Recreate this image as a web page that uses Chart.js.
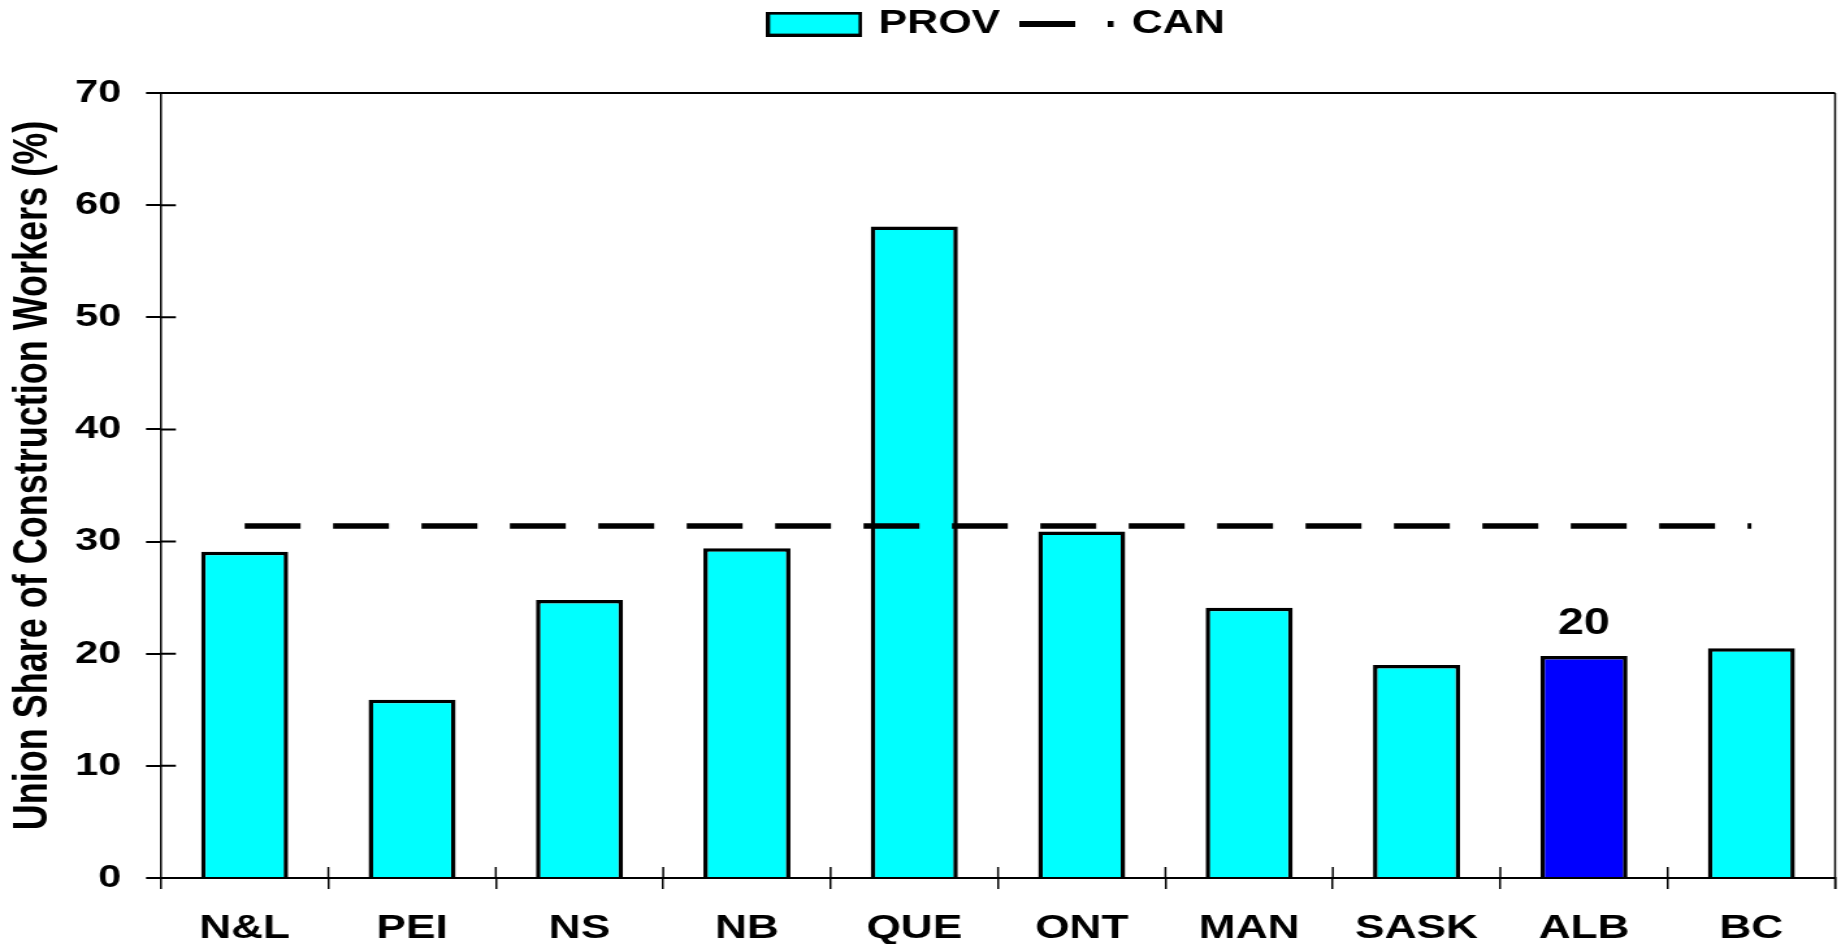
<!DOCTYPE html>
<html lang="en">
<head>
  <meta charset="UTF-8">
  <title>Union Share of Construction Workers</title>
  <script src="https://cdn.jsdelivr.net/npm/chart.js"></script>
  <style>
    html, body {
      margin: 0;
      padding: 0;
      background: #fff;
      overflow: hidden;
    }
    /* the original figure is stretched sideways, so draw narrow and widen */
    #wrap {
      width: 1416px;
      height: 944px;
      transform: scaleX(1.3001);
      transform-origin: 0 0;
    }
  </style>
</head>
<body>
  <div id="wrap"><canvas id="unionChart"></canvas></div>

  <script>
    const provinces = ['N&L', 'PEI', 'NS', 'NB', 'QUE', 'ONT', 'MAN', 'SASK', 'ALB', 'BC'];
    const provShare = [29.1, 15.9, 24.8, 29.4, 58.1, 30.9, 24.1, 19.0, 19.8, 20.5];
    const canShare = [31.4, 31.4, 31.4, 31.4, 31.4, 31.4, 31.4, 31.4, 31.4, 31.4];
    const highlight = 'ALB';

    const FONT = '"Liberation Sans", Arial, sans-serif';
    Chart.defaults.font.family = FONT;
    Chart.defaults.font.weight = 'bold';
    Chart.defaults.color = '#000';

    function swatch(w, h, draw) {
      const c = document.createElement('canvas');
      c.width = w;
      c.height = h;
      draw(c.getContext('2d'));
      return c;
    }
    const provSwatch = swatch(74, 25, g => {
      g.fillStyle = '#00ffff';
      g.fillRect(0, 0, 74, 25);
      g.strokeStyle = '#000';
      g.lineWidth = 3;
      g.strokeRect(1.5, 1.5, 71, 22);
    });
    const canSwatch = swatch(74, 6, g => {
      g.fillStyle = '#000';
      g.fillRect(0, 0, 43, 6);
      g.fillRect(68, 0, 4.5, 6);
    });

    // top/right frame plus the inner halves of the tick marks
    const frame = {
      id: 'frame',
      afterDraw(chart) {
        const {ctx, chartArea: a} = chart;
        const x = chart.scales.x, y = chart.scales.y;
        ctx.save();
        ctx.strokeStyle = '#000';
        ctx.lineWidth = 2;
        ctx.beginPath();
        ctx.moveTo(a.left, a.top);
        ctx.lineTo(a.right, a.top);
        y.ticks.forEach(t => {
          const py = y.getPixelForValue(t.value);
          ctx.moveTo(a.left, py);
          ctx.lineTo(a.left + 11.5, py);
        });
        ctx.stroke();
        ctx.lineWidth = 1.5;
        ctx.beginPath();
        ctx.moveTo(a.right, a.top);
        ctx.lineTo(a.right, a.bottom + 11);
        for (let i = 1; i < provinces.length; i++) {
          const px = x.getPixelForValue(i - 0.5);
          ctx.moveTo(px, a.bottom - 11);
          ctx.lineTo(px, a.bottom);
        }
        ctx.stroke();
        ctx.restore();
      }
    };

    const valueLabel = {
      id: 'valueLabel',
      afterDatasetsDraw(chart) {
        const i = provinces.indexOf(highlight);
        const bar = chart.getDatasetMeta(0).data[i];
        const ctx = chart.ctx;
        ctx.save();
        ctx.font = 'bold 36px ' + FONT;
        ctx.fillStyle = '#000';
        ctx.textAlign = 'center';
        ctx.textBaseline = 'middle';
        ctx.fillText(String(Math.round(provShare[i])), bar.x, bar.y - 32);
        ctx.restore();
      }
    };

    new Chart(document.getElementById('unionChart'), {
      type: 'bar',
      data: {
        labels: provinces,
        datasets: [{
          label: 'PROV',
          data: provShare,
          backgroundColor: provinces.map(p => p === highlight ? '#0000ff' : '#00ffff'),
          borderColor: '#000',
          borderWidth: 3.5,
          barPercentage: 0.52,
          categoryPercentage: 1,
          order: 1
        }, {
          type: 'line',
          label: 'CAN',
          data: canShare,
          borderColor: '#000',
          borderWidth: 5.5,
          borderDash: [43, 25],
          pointRadius: 0,
          fill: false,
          order: 0
        }]
      },
      options: {
        responsive: true,
        maintainAspectRatio: false,
        animation: false,
        devicePixelRatio: 1,
        layout: { padding: { top: -11, right: 4.5, bottom: 0, left: 0 } },
        plugins: {
          tooltip: { enabled: false },
          legend: {
            position: 'top',
            fullSize: false,
            labels: {
              usePointStyle: true,
              pointStyleWidth: 66,
              padding: 18.6,
              font: { size: 33, weight: 'bold' },
              generateLabels: () => [
                { text: 'PROV', pointStyle: provSwatch, datasetIndex: 0, fontColor: '#000', lineWidth: 0 },
                { text: 'CAN', pointStyle: canSwatch, datasetIndex: 1, fontColor: '#000', lineWidth: 0 }
              ]
            }
          },
          subtitle: {
            display: true,
            text: '',
            weight: 500,
            font: { size: 10 },
            padding: { top: 30.5, bottom: 0 }
          }
        },
        scales: {
          x: {
            afterFit: s => { s.height = 66; },
            grid: { offset: true, drawOnChartArea: false, tickLength: 11, color: '#000', lineWidth: 1.5 },
            border: { color: '#000', width: 2 },
            ticks: { font: { size: 34, weight: 'bold' }, padding: 19.5, maxRotation: 0 }
          },
          y: {
            min: 0,
            max: 70,
            afterFit: s => { s.width = 123.8; },
            grid: { drawOnChartArea: false, tickLength: 11.5, color: '#000', lineWidth: 2 },
            border: { color: '#000', width: 1.5 },
            ticks: { stepSize: 10, font: { size: 32, weight: 'bold' }, padding: 19 },
            title: {
              display: true,
              text: '  Union Share of Construction Workers (%)',
              font: { size: 36, weight: 'bold' },
              padding: { top: 4, bottom: 0 }
            }
          }
        }
      },
      plugins: [frame, valueLabel]
    });
  </script>
</body>
</html>
